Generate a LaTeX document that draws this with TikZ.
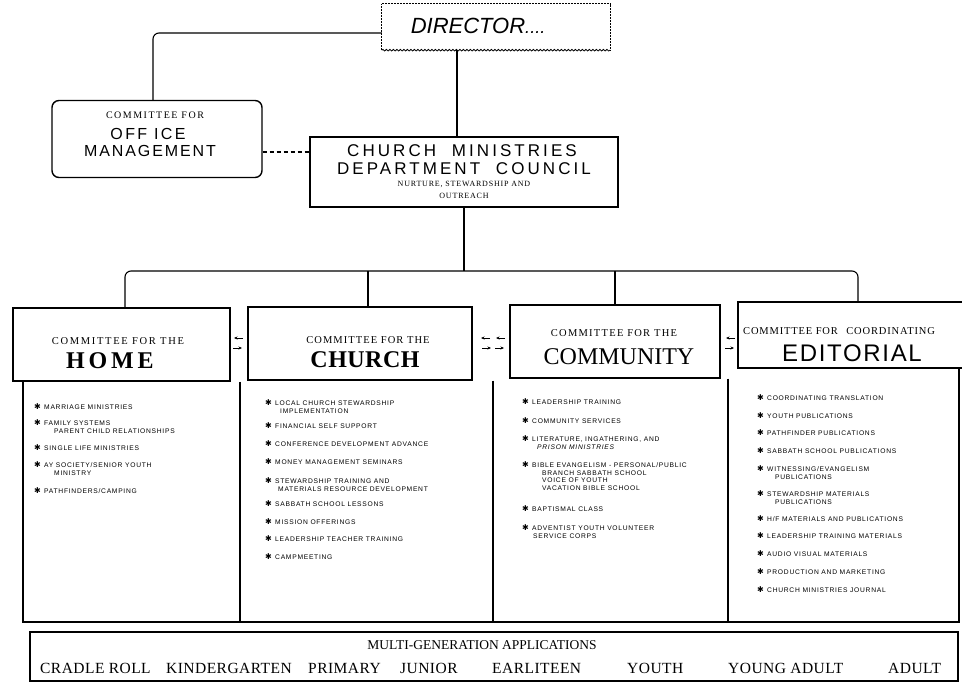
\documentclass[tikz,border=0pt]{standalone}
\usepackage{fontspec}
\setmainfont{Liberation Serif}
\setsansfont{Liberation Sans}
\newfontfamily\symf{DejaVu Sans}
\usetikzlibrary{decorations.pathmorphing,arrows.meta}
\newcommand\fsz[1]{\fontsize{#1}{#1}\selectfont}
\newcommand\lsp[1]{\addfontfeature{LetterSpace=#1}}
\newcommand\bul{\makebox[10pt][l]{{\symf\fontsize{8}{8}\selectfont ✱}}}
\begin{document}
\begin{tikzpicture}[x=1pt,y=-1pt,
  box/.style={draw,line width=1.4pt,inner sep=0pt},
  conn/.style={line width=1.1pt},
  txt/.style={inner sep=0pt,align=center},
  dotborder/.style={line width=0.9pt,dash pattern=on 0.8pt off 0.7pt},
  wavy/.style={line width=0.8pt,decorate,decoration={snake,segment length=3.5pt,amplitude=0.8pt}},
  arr/.style={-{Stealth[length=3.5pt,width=3pt]},line width=0.7pt},
  panel/.style={line width=1.2pt},
  item/.style={inner sep=0pt,anchor=north west,align=left,font=\sffamily\fontsize{6.7}{7.5}\selectfont\lsp{11}},
  small/.style={txt,font=\fsz{10}\lsp{15}},
  gen/.style={inner sep=0pt,anchor=base west,font=\fsz{15.5}\lsp{3}}
]
\useasboundingbox (0,0) rectangle (962,683);
\clip (0,0) rectangle (962,683);

% ---------- director
\node[minimum width=228pt,minimum height=46pt,inner sep=0pt] (dir) at (496,27) {};
\node[txt,font=\sffamily\itshape\fsz{22}] (dir-t) at (478,26) {DIRECTOR{\fsz{18}....}};
\draw[dotborder] (dir.south west) -- (dir.north west) -- (dir.north east) -- (dir.south east);
\draw[wavy] (dir.south west) -- (dir.south east);

% ---------- office committee
\node[box,rounded corners=7pt,minimum width=210pt,minimum height=77pt] (office) at (157,139) {};
\node[small] (office-a) at (155,115) {COMMITTEE FOR};
\node[txt,font=\sffamily\fsz{16}\lsp{15}] (office-b) at (148,134) {OFF ICE};
\node[txt,font=\sffamily\fsz{16}\lsp{12}] (office-c) at (150,151) {MANAGEMENT};

% ---------- council
\node[box,minimum width=308pt,minimum height=70pt] (council) at (464,172) {};
\node[txt,font=\sffamily\fsz{17}\lsp{18}] (council-a) at (462,151) {CHURCH\hspace{8pt} MINISTRIES};
\node[txt,font=\sffamily\fsz{17}\lsp{18}] (council-b) at (464,169) {DEPARTMENT\hspace{8pt} COUNCIL};
\node[txt,font=\fsz{8}\lsp{10}] (council-c) at (464,184.5) {NURTURE, STEWARDSHIP AND};
\node[txt,font=\fsz{8}\lsp{10}] (council-d) at (464,196) {OUTREACH};

% ---------- top connectors
\coordinate (j1) at (153,33);
\coordinate (j2) at (457,0);
\coordinate (j3) at (0,152);
\draw[conn,rounded corners=6pt] (dir.west |- j1) -| (office.north -| j1);
\draw[conn] (dir.south -| j2) -- (council.north -| j2);
\draw[conn,dash pattern=on 4pt off 3pt] (office.east |- j3) -- (council.west |- j3);

% ---------- committee headers
\node[box,minimum width=217pt,minimum height=73pt] (home) at (121.5,344.5) {};
\node[box,minimum width=224pt,minimum height=73pt] (church) at (360,343.5) {};
\node[box,minimum width=210pt,minimum height=73pt] (comm) at (615,341.5) {};
\node[box,minimum width=242pt,minimum height=66pt] (edit) at (859,335) {};

\node[txt,font=\fsz{10.5}\lsp{16}] (home-a) at (118,341) {COMMITTEE FOR THE};
\node[txt,font=\bfseries\fsz{24}\lsp{16}] (home-b) at (110,361) {HOME};
\node[txt,font=\fsz{10.5}\lsp{10}] (church-a) at (368,340) {COMMITTEE FOR THE};
\node[txt,font=\bfseries\fsz{24}\lsp{2}] (church-b) at (365,360) {CHURCH};
\node[txt,font=\fsz{10.5}\lsp{12}] (comm-a) at (614,333) {COMMITTEE FOR THE};
\node[txt,font=\fsz{24}] (comm-b) at (619,357) {COMMUNITY};
\node[inner sep=0pt,anchor=west,font=\fsz{10.5}\lsp{8}] (edit-a) at (743,331) {COMMITTEE FOR\hspace{5pt} COORDINATING};
\node[txt,font=\sffamily\fsz{24}\lsp{7}] (edit-b) at (852,353) {EDITORIAL};

% ---------- bus
\coordinate (bus) at (0,271);
\coordinate (d1) at (125,0);
\coordinate (d2) at (368,0);
\coordinate (d3) at (615,0);
\coordinate (d4) at (858,0);
\draw[conn] (council.south) -- (council.south |- bus);
\draw[conn,rounded corners=6pt] (home.north -| d1) -- (d1 |- bus) -- (d4 |- bus) -- (edit.north -| d4);
\draw[conn] (d2 |- bus) -- (church.north -| d2);
\draw[conn] (d3 |- bus) -- (comm.north -| d3);

% ---------- small arrows
\coordinate (a1) at (243,338); \coordinate (b1) at (233,348);
\coordinate (a2) at (490,338); \coordinate (b2) at (482,348);
\coordinate (a3) at (505,338); \coordinate (b3) at (495,348);
\coordinate (a4) at (735,338); \coordinate (b4) at (725,348);
\foreach \n in {1,2,3,4} {
  \draw[arr] (a\n) -- ++(-9,0);
  \draw[arr] (b\n) -- ++(9,0);
}

% ---------- list panels
\coordinate (p1) at (23,0);
\coordinate (p2) at (240,0);
\coordinate (p3) at (493,0);
\coordinate (p4) at (728,0);
\coordinate (p5) at (959,0);
\coordinate (pb) at (0,622);
\draw[panel] (home.south -| p1) -- (p1 |- pb) -- (p5 |- pb) -- (edit.south -| p5);
\draw[panel] (home.south -| p2) -- (p2 |- pb);
\draw[panel] (church.south -| p3) -- (p3 |- pb);
\draw[panel] (comm.south -| p4) -- (p4 |- pb);

% home list
\node[item] (h1) at (34,403.5) {\bul MARRIAGE MINISTRIES};
\node[item] (h2) at (34,419.5) {\bul FAMILY SYSTEMS\\\hspace*{20pt}PARENT CHILD RELATIONSHIPS};
\node[item] (h3) at (34,444.5) {\bul SINGLE LIFE MINISTRIES};
\node[item] (h4) at (34,461.5) {\bul AY SOCIETY/SENIOR YOUTH\\\hspace*{20pt}MINISTRY};
\node[item] (h5) at (34,487.5) {\bul PATHFINDERS/CAMPING};

% church list
\node[item] (c1) at (265,399.5) {\bul LOCAL CHURCH STEWARDSHIP\\\hspace*{15pt}IMPLEMENTATION};
\node[item] (c2) at (265,422.5) {\bul FINANCIAL SELF SUPPORT};
\node[item] (c3) at (265,440.5) {\bul CONFERENCE DEVELOPMENT ADVANCE};
\node[item] (c4) at (265,458.5) {\bul MONEY MANAGEMENT SEMINARS};
\node[item] (c5) at (265,477.5) {\bul STEWARDSHIP TRAINING AND\\\hspace*{13pt}MATERIALS RESOURCE DEVELOPMENT};
\node[item] (c6) at (265,500.5) {\bul SABBATH SCHOOL LESSONS};
\node[item] (c7) at (265,518.5) {\bul MISSION OFFERINGS};
\node[item] (c8) at (265,535.5) {\bul LEADERSHIP TEACHER TRAINING};
\node[item] (c9) at (265,553.5) {\bul CAMPMEETING};

% community list
\node[item] (m1) at (522,398.5) {\bul LEADERSHIP TRAINING};
\node[item] (m2) at (522,417.5) {\bul COMMUNITY SERVICES};
\node[item] (m3) at (522,435.5) {\bul LITERATURE, INGATHERING, AND\\\hspace*{15pt}\itshape PRISON MINISTRIES};
\node[item] (m4) at (522,461.5) {\bul BIBLE EVANGELISM - PERSONAL/PUBLIC\\\hspace*{20pt}BRANCH SABBATH SCHOOL\\\hspace*{20pt}VOICE OF YOUTH\\\hspace*{20pt}VACATION BIBLE SCHOOL};
\node[item] (m5) at (522,505.5) {\bul BAPTISMAL CLASS};
\node[item] (m6) at (522,524.5) {\bul ADVENTIST YOUTH VOLUNTEER\\\hspace*{11pt}SERVICE CORPS};

% editorial list
\node[item] (e1) at (757,394.5) {\bul COORDINATING TRANSLATION};
\node[item] (e2) at (757,412.5) {\bul YOUTH PUBLICATIONS};
\node[item] (e3) at (757,429.5) {\bul PATHFINDER PUBLICATIONS};
\node[item] (e4) at (757,447.5) {\bul SABBATH SCHOOL PUBLICATIONS};
\node[item] (e5) at (757,465.5) {\bul WITNESSING/EVANGELISM\\\hspace*{18pt}PUBLICATIONS};
\node[item] (e6) at (757,490.5) {\bul STEWARDSHIP MATERIALS\\\hspace*{18pt}PUBLICATIONS};
\node[item] (e7) at (757,515.5) {\bul H/F MATERIALS AND PUBLICATIONS};
\node[item] (e8) at (757,532.5) {\bul LEADERSHIP TRAINING MATERIALS};
\node[item] (e9) at (757,550.5) {\bul AUDIO VISUAL MATERIALS};
\node[item] (e10) at (757,568.5) {\bul PRODUCTION AND MARKETING};
\node[item] (e11) at (757,586.5) {\bul CHURCH MINISTRIES JOURNAL};

% ---------- multi-generation box
\node[box,minimum width=928pt,minimum height=49pt] (genbox) at (494,656.5) {};
\node[txt,font=\fsz{13.5}] (gen-t) at (482,645) {MULTI-GENERATION APPLICATIONS};
\node[gen] (g1) at (40,673) {CRADLE ROLL};
\node[gen] (g2) at (166,673) {KINDERGARTEN};
\node[gen] (g3) at (308,673) {PRIMARY};
\node[gen] (g4) at (400,673) {JUNIOR};
\node[gen] (g5) at (492,673) {EARLITEEN};
\node[gen] (g6) at (627,673) {YOUTH};
\node[gen] (g7) at (728,673) {YOUNG ADULT};
\node[gen] (g8) at (888,673) {ADULT};
\end{tikzpicture}
\end{document}
